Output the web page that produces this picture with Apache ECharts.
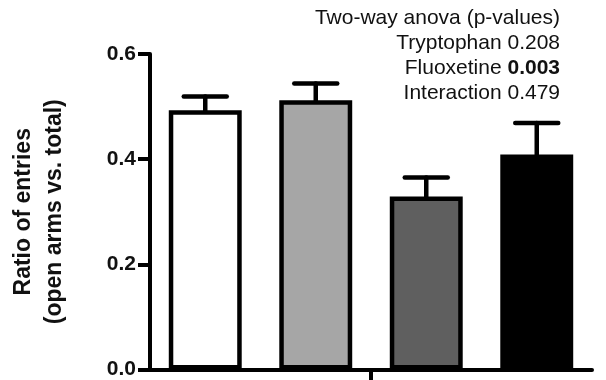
<!DOCTYPE html>
<html>
<head>
<meta charset="utf-8">
<script src="https://cdn.jsdelivr.net/npm/echarts@6/dist/echarts.min.js"></script>
<style>html,body{margin:0;padding:0;background:#fff}#c{width:606px;height:380px}</style>
</head>
<body>
<div id="c"></div>
<script>
var categories = ['Group 1', 'Group 2', 'Group 3', 'Group 4'];
var means = [0.493, 0.512, 0.329, 0.409];
var errors = [0.026, 0.032, 0.036, 0.060];
var barColors = ['#ffffff', '#a6a6a6', '#5f5f5f', '#000000'];
var yTicks = [0, 0.2, 0.4, 0.6];
var xTickBeforeCategory = [2];
var annotation = [
  ['Two-way anova (p-values)', ''],
  ['Tryptophan ', '0.208', false],
  ['Fluoxetine ', '0.003', true],
  ['Interaction ', '0.479', false]
];

var FONT = '"Liberation Sans", Arial, sans-serif';
var chart = echarts.init(document.getElementById('c'), null, {renderer: 'canvas'});

var graphics = annotation.map(function (row, i) {
  var txt = row[1] ? (row[0] + (row[2] ? '{b|' + row[1] + '}' : row[1])) : row[0];
  return {
    type: 'text', right: 46, top: 8 + i * 25, z: 10,
    style: {
      text: txt, fill: '#111', font: '21px ' + FONT, textAlign: 'right',
      rich: { b: { fontWeight: 'bold', fontSize: 21, fontFamily: FONT, fill: '#111' } }
    }
  };
});

chart.setOption({
  animation: false,
  backgroundColor: '#fff',
  grid: { left: 120, right: 14, top: 54, bottom: 10, containLabel: false },
  xAxis: {
    type: 'category', data: categories,
    axisLine: { lineStyle: { color: '#000', width: 4 } },
    axisTick: { show: false },
    axisLabel: { show: false }
  },
  yAxis: {
    type: 'value', min: 0, max: 0.6, interval: 0.2,
    name: 'Ratio of entries\n(open arms vs. total)',
    nameLocation: 'middle', nameGap: 80, nameRotate: 90,
    nameTextStyle: { fontFamily: FONT, fontWeight: 'bold', fontSize: 23, color: '#111', lineHeight: 31 },
    axisLine: { show: true, lineStyle: { color: '#000', width: 4 } },
    axisTick: { show: true, length: 12, lineStyle: { color: '#000', width: 4 } },
    axisLabel: { margin: 14, fontFamily: FONT, fontWeight: 'bold', fontSize: 21, color: '#111',
      formatter: function (v) { return v.toFixed(1); } },
    splitLine: { show: false }
  },
  graphic: graphics,
  series: [
    {
      type: 'bar', barWidth: '66%',
      data: means.map(function (v, i) {
        return { value: v, itemStyle: { color: barColors[i], borderColor: '#000', borderWidth: 4.5 } };
      }),
      z: 2
    },
    {
      type: 'custom', z: 1,
      data: means.map(function (v, i) { return [i, v, v + errors[i]]; }),
      renderItem: function (params, api) {
        var p0 = api.coord([api.value(0), api.value(1)]);
        var p1 = api.coord([api.value(0), api.value(2)]);
        var half = 21.5;
        var st = { stroke: '#000', lineWidth: 4.5, lineCap: 'round' };
        return {
          type: 'group',
          children: [
            { type: 'line', shape: { x1: p0[0], y1: p0[1], x2: p1[0], y2: p1[1] }, style: st },
            { type: 'line', shape: { x1: p1[0] - half, y1: p1[1], x2: p1[0] + half, y2: p1[1] }, style: st }
          ]
        };
      }
    },
    {
      type: 'custom', z: 3, silent: true,
      data: xTickBeforeCategory.map(function (c) { return [c, 0]; }),
      renderItem: function (params, api) {
        var c = api.coord([api.value(0), api.value(1)]);
        var bw = api.size([1, 0])[0];
        var x = c[0] - bw / 2;
        return { type: 'line', shape: { x1: x, y1: c[1], x2: x, y2: c[1] + 14 },
          style: { stroke: '#000', lineWidth: 4 } };
      }
    }
  ]
});
</script>
</body>
</html>
